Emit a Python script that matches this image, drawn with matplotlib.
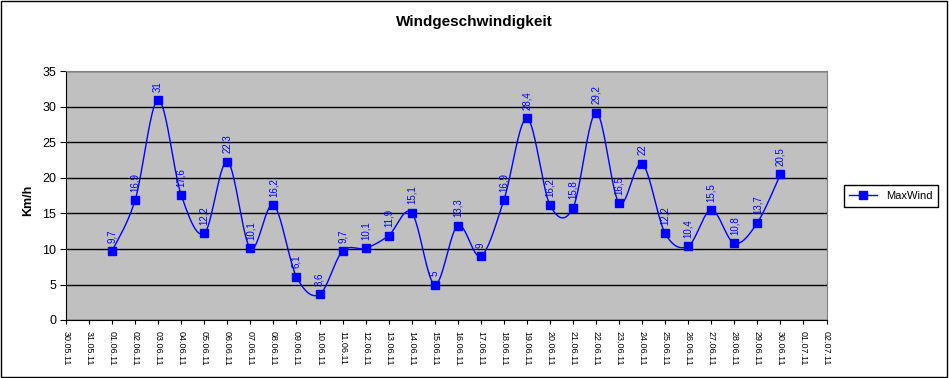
import numpy as np
import matplotlib.pyplot as plt
from matplotlib.patches import Rectangle
from matplotlib.lines import Line2D

plt.rcParams['font.family'] = ['Liberation Sans', 'DejaVu Sans']

# Kategorien der x-Achse
tage = ['30.05.11', '31.05.11',
        '01.06.11', '02.06.11', '03.06.11', '04.06.11', '05.06.11', '06.06.11',
        '07.06.11', '08.06.11', '09.06.11', '10.06.11', '11.06.11', '12.06.11',
        '13.06.11', '14.06.11', '15.06.11', '16.06.11', '17.06.11', '18.06.11',
        '19.06.11', '20.06.11', '21.06.11', '22.06.11', '23.06.11', '24.06.11',
        '25.06.11', '26.06.11', '27.06.11', '28.06.11', '29.06.11', '30.06.11',
        '01.07.11', '02.07.11']
# Messtage (01.06. - 30.06.)
mess_tage = tage[2:32]
max_wind = [9.7, 16.9, 31, 17.6, 12.2, 22.3, 10.1, 16.2, 6.1, 3.6,
            9.7, 10.1, 11.9, 15.1, 5, 13.3, 9, 16.9, 28.4, 16.2,
            15.8, 29.2, 16.5, 22, 12.2, 10.4, 15.5, 10.8, 13.7, 20.5]


def glaettung(xs, ys, n=24):
    # geglaettete Linie wie in Excel (Bezier, Catmull-Rom Kontrollpunkte)
    pts = np.column_stack([xs, ys]).astype(float)
    ext = np.vstack([pts[0], pts, pts[-1]])
    t = np.linspace(0, 1, n)[:, None]
    kurve = []
    for i in range(len(pts) - 1):
        p0, p1, p2, p3 = ext[i], ext[i + 1], ext[i + 2], ext[i + 3]
        c1 = p1 + (p2 - p0) / 6
        c2 = p2 - (p3 - p1) / 6
        seg = (1 - t)**3 * p1 + 3 * (1 - t)**2 * t * c1 + 3 * (1 - t) * t**2 * c2 + t**3 * p2
        kurve.append(seg if i == 0 else seg[1:])
    return np.vstack(kurve)


fig = plt.figure(figsize=(9.49, 3.78), dpi=100)
ax = fig.add_axes([66 / 949, 58 / 378, 760.5 / 949, 248.5 / 378])
ax.set_facecolor('#c0c0c0')

xpos = [tage.index(d) for d in mess_tage]
kurve = glaettung(xpos, max_wind)
ax.plot(kurve[:, 0], kurve[:, 1], color='#0000ff', lw=1, zorder=3)
ax.plot(xpos, max_wind, ls='none', marker='s', ms=5.3, color='#0000ff', zorder=4)

for x, v in zip(xpos, max_wind):
    ax.annotate(('%g' % v).replace('.', ','), (x, v), xytext=(0, 6),
                textcoords='offset points', rotation=90, ha='center', va='bottom',
                color='#0000ff', fontsize=7, zorder=5)

ax.set_xlim(0, len(tage) - 1)
ax.set_ylim(0, 35)
ax.set_yticks(range(0, 36, 5))
ax.set_xticks(range(len(tage)))
ax.set_xticklabels(tage, rotation=-90, fontsize=6.5)
ax.tick_params(axis='y', direction='out', length=4, labelsize=9, pad=3)
ax.tick_params(axis='x', direction='out', length=3, pad=5)
ax.yaxis.grid(True, color='black', lw=1)
ax.set_axisbelow(True)
for s in ['top', 'right']:
    ax.spines[s].set_color('#808080')
for s in ['left', 'bottom']:
    ax.spines[s].set_color('black')

fig.text(474 / 949, 1 - 22 / 378, 'Windgeschwindigkeit', ha='center', va='center',
         fontsize=11, fontweight='bold')
fig.text(28 / 949, 1 - 200 / 378, 'Km/h', ha='center', va='center', rotation=90,
         fontsize=9, fontweight='bold')

handle = Line2D([], [], color='#0000ff', lw=1, marker='s', ms=5.3)
leg = fig.legend([handle], ['MaxWind'], loc='center',
                 bbox_to_anchor=(891 / 949, 1 - 196 / 378), fontsize=8,
                 fancybox=False, edgecolor='black', framealpha=1, handlelength=2.5,
                 borderpad=0.5)
leg.get_frame().set_linewidth(1)

fig.patches.append(Rectangle((0.001, 0.002), 0.997, 0.995, transform=fig.transFigure,
                             fill=False, ec='black', lw=1))

fig.savefig('out.png', dpi=100)
